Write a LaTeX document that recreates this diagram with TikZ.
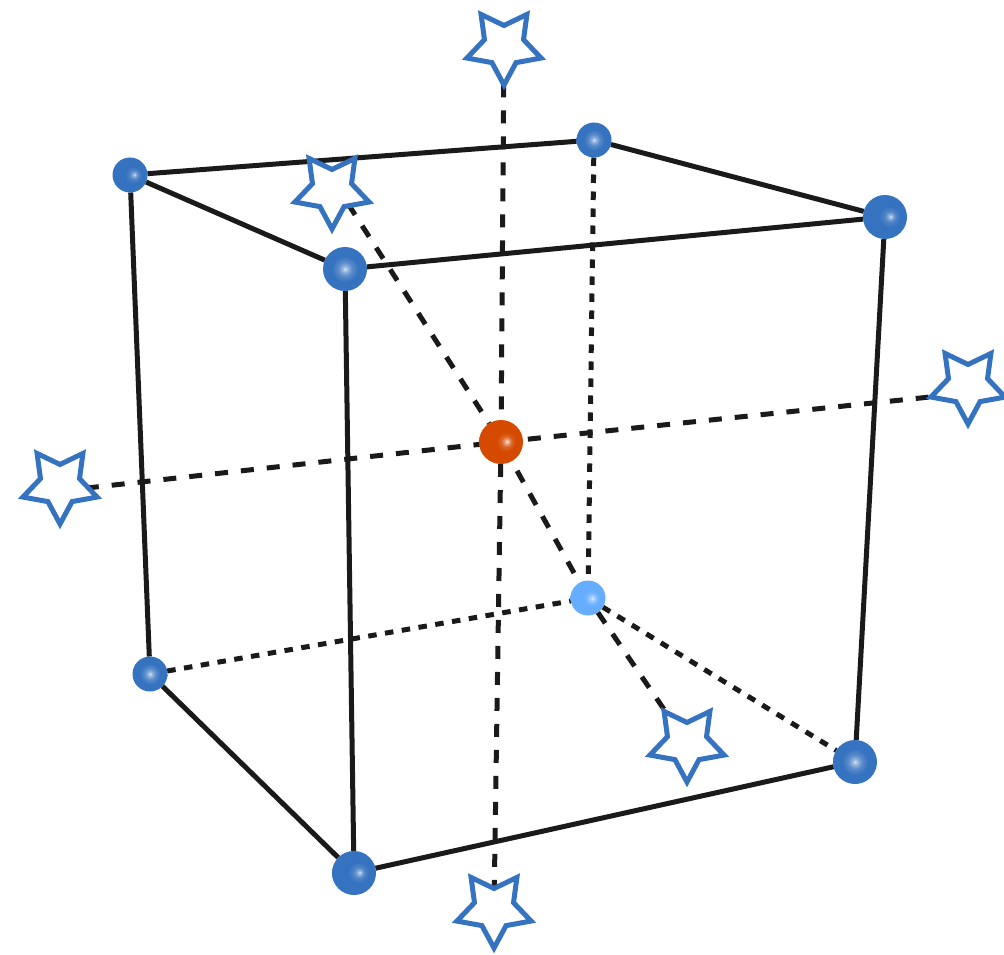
\documentclass[tikz,border=0pt]{standalone}
\usetikzlibrary{shapes.geometric,backgrounds}
\definecolor{ballblue}{HTML}{3572BF}
\definecolor{ballorange}{HTML}{D64A00}
\definecolor{balllight}{HTML}{66ADFF}
\definecolor{starblue}{HTML}{3572BF}
\definecolor{edgeblack}{HTML}{1A1A1A}
\pgfdeclareradialshading{bluecentre}{\pgfpoint{0bp}{0bp}}{color(0bp)=(white!80!ballblue); color(3bp)=(white!48!ballblue); color(8bp)=(white!18!ballblue); color(15bp)=(ballblue); color(50bp)=(ballblue)}
\pgfdeclareradialshading{blueside}{\pgfpoint{6.5bp}{0.5bp}}{color(0bp)=(white!80!ballblue); color(2.5bp)=(white!42!ballblue); color(6bp)=(white!14!ballblue); color(12bp)=(ballblue); color(50bp)=(ballblue)}
\pgfdeclareradialshading{orangeside}{\pgfpoint{7bp}{0.5bp}}{color(0bp)=(white!90!ballorange); color(2.5bp)=(white!50!ballorange); color(6bp)=(white!15!ballorange); color(11bp)=(ballorange); color(50bp)=(ballorange)}
\pgfdeclareradialshading{lightside}{\pgfpoint{6.5bp}{-0.5bp}}{color(0bp)=(white!80!balllight); color(3bp)=(white!40!balllight); color(8bp)=(white!10!balllight); color(12bp)=(balllight); color(50bp)=(balllight)}
\tikzset{
  ball/.style={circle,inner sep=0pt,outer sep=0pt,draw=none},
  bigball/.style={ball,minimum size=44pt},
  smallball/.style={ball,minimum size=35pt},
  starnode/.style={star,star points=5,star point ratio=1.9,shape border rotate=180,
    minimum size=78pt,inner sep=0pt,outer sep=0pt,draw=starblue,line width=5pt,fill=white,miter limit=10},
  edge/.style={draw=edgeblack,line width=5pt},
  longdash/.style={draw=edgeblack,line width=5pt,dash pattern=on 13pt off 13pt},
  shortdash/.style={draw=edgeblack,line width=5pt,dash pattern=on 8.5pt off 8.5pt},
}
\begin{document}
\begin{tikzpicture}[x=1pt,y=-1pt]
\useasboundingbox (0,0) rectangle (1004,955);
% balls of the cube
\node[smallball,shading=blueside] (A) at (130,175) {};
\node[smallball,shading=bluecentre] (B) at (594,140) {};
\node[bigball,shading=bluecentre] (C) at (345,269) {};
\node[bigball,shading=blueside] (D) at (885,217) {};
\node[smallball,shading=bluecentre] (E) at (150,674) {};
\node[bigball,shading=blueside] (F) at (354,873) {};
\node[bigball,shading=bluecentre] (G) at (855,762) {};
\node[smallball,shading=lightside] (H) at (588,598) {};
\node[bigball,shading=orangeside] (O) at (501,442) {};
% stars
\node[starnode] (S1) at (504,46) {};
\node[starnode] (S2) at (332,190) {};
\node[starnode] (S3) at (968,385) {};
\node[starnode] (S4) at (60,485) {};
\node[starnode] (S5) at (687,743) {};
\node[starnode] (S6) at (494,909) {};
% ends of the dashed axes, hidden under the stars
\coordinate (c2) at (334,182);
\coordinate (c3) at (968,393);
\coordinate (c4) at (60,491);
\begin{scope}[on background layer]
  \draw[edge] (A) -- (B);
  \draw[edge] (A) -- (C);
  \draw[edge] (B) -- (D);
  \draw[edge] (C) -- (D);
  \draw[edge] (A) -- (E);
  \draw[edge] (C) -- (F);
  \draw[edge] (D) -- (G);
  \draw[edge] (E) -- (F);
  \draw[edge] (F) -- (G);
  \draw[shortdash] (B) -- (H);
  \draw[shortdash] (E) -- (H);
  \draw[shortdash] (H) -- (G);
  \draw[longdash] (S1) -- (O);
  \draw[longdash] (O) -- (S6);
  \draw[longdash,shorten <=5pt] (O) -- (c3);
  \draw[longdash,shorten >=-1pt] (c4) -- (O);
  \draw[longdash] (c2) -- (O);
  \draw[longdash,shorten <=11pt] (O) -- (H);
  \draw[longdash] (H) -- (S5);
\end{scope}
\end{tikzpicture}
\end{document}
